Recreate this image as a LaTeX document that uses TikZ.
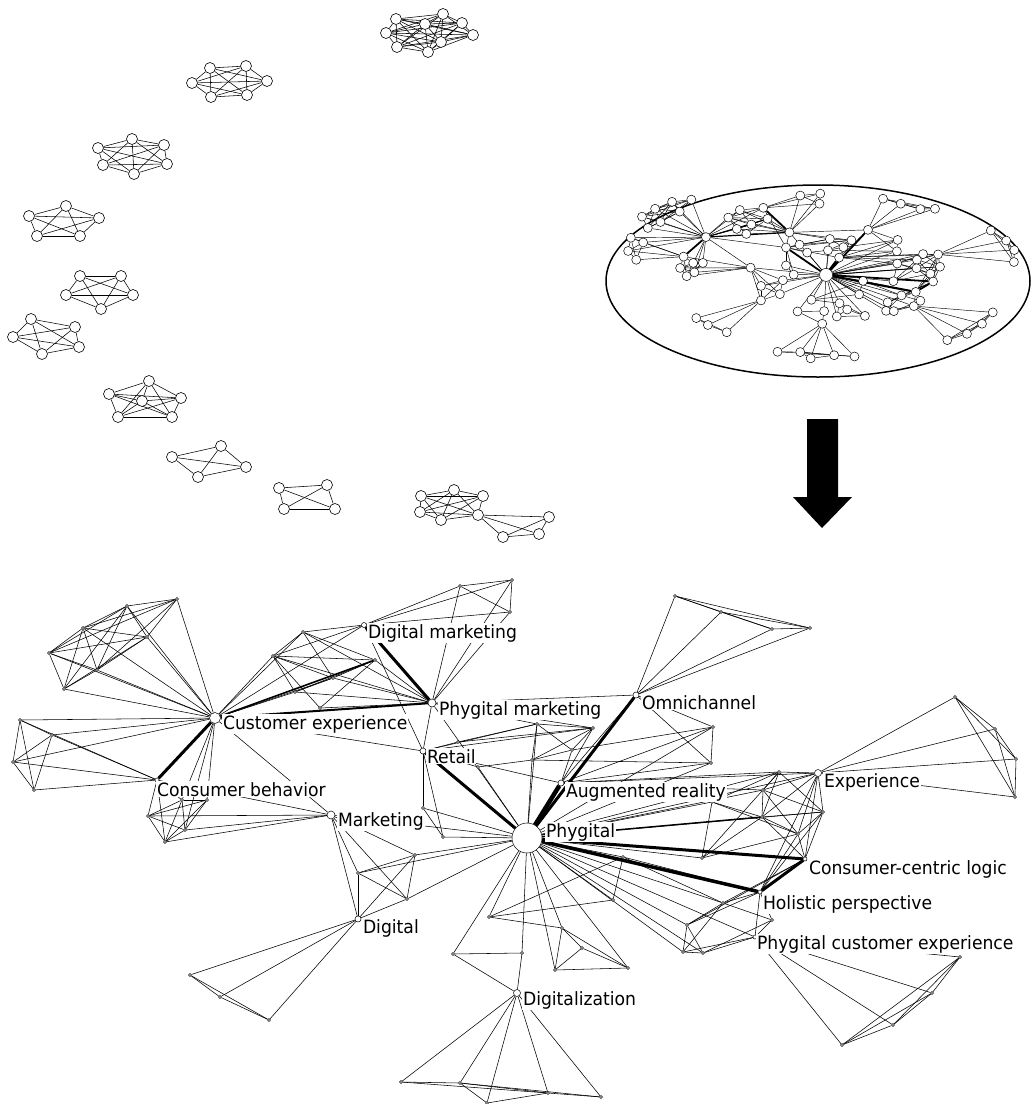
\documentclass[tikz,border=0pt]{standalone}
\usepackage{fontspec}
\setmainfont{DejaVu Sans}[FakeStretch=0.94]
\usetikzlibrary{backgrounds}

\newcommand{\netnodes}{phy/527/838/30,ce/215/718/11,cb/157/780/4,dm/364/625/5,pm/432/703/8,ret/423/751/6,mkt/331/815/8,omni/636/695/6,ar/561/783/6,exp/818/773/7,ccl/805/859/4,hol/760/892/4,pce/755/937/4,dig/358/919/6,digz/517/993/7,
a1/177/599/3,a2/127/606/3,a3/83/628/3,a4/49/653/3,a5/64/689/3,a6/147/637/3,a7/97/670/3,
b1/20/720/3,b2/52/735/3,b3/13/762/3,b4/34/790/3,
c1/148/816/3,c2/165/842/3,c3/185/830/3,c4/182/800/3,c5/207/800/3,
u1/303/632/3,u2/273/656/3,u3/295/692/3,u4/333/678/3,u5/375/660/3,u6/320/708/3,
t1/460/586/3,t2/512/580/3,t3/510/612/3,
m1/537/724/3,m2/593/728/3,m3/458/742/3,m4/532/760/3,m5/572/750/3,m6/423/808/3,m7/443/837/3,m8/478/767/3,
oa/675/596/3,ob/721/612/3,oc/772/629/3,od/810/628/3,oe/713/727/3,of/711/763/3,
ea/955/697/3,eb/995/729/3,ec/1016/759/3,ed/1015/797/3,
r1/779/772/3,r2/763/790/3,r3/823/812/3,r4/798/834/3,r5/702/858/3,r6/762/817/3,r7/712/802/3,
s1/683/952/3,s2/703/953/3,s3/687/925/3,s4/723/903/3,s5/623/857/3,s6/772/920/3,
pa/960/957/3,pb/932/993/3,pc/893/1025/3,pd/842/1045/3,
k1/415/855/3,k2/358/873/3,k3/407/899/3,
da/190/975/3,db/220/997/3,dc/269/1020/3,
g1/453/954/3,g2/522/953/3,g3/489/917/3,g4/613/900/3,g5/555/970/3,g6/628/968/3,g7/562/928/3,g8/582/948/3,
za/401/1082/3,zb/460/1083/3,zc/548/1093/3,zd/601/1097/3,ze/487/1103/3}

\newcommand{\netedges}{a1/a2,a1/a3,a1/a4,a1/a6,a1/a7,a2/a3,a2/a4,a2/a5,a2/a6,a2/a7,a3/a4,a3/a5,a3/a6,a3/a7,a4/a5,a4/a6,a4/a7,a5/a6,a5/a7,a6/a7,
ce/a1,ce/a2,ce/a3,ce/a4,ce/a5,ce/a6,ce/a7,
b1/b2,b1/b3,b1/b4,b2/b3,b2/b4,b3/b4,ce/b1,ce/b2,ce/b3,cb/b1,cb/b2,cb/b3,cb/b4,
c1/c2,c1/c3,c1/c4,c1/c5,c2/c3,c2/c4,c2/c5,c3/c4,c3/c5,c4/c5,cb/c1,cb/c2,cb/c4,mkt/c1,mkt/c2,mkt/c3,ce/c3,ce/c4,ce/c5,
cb/mkt,ce/mkt,ce/dm,ce/ret,
u1/u2,u1/dm,u2/dm,u1/u4,u2/u4,u2/u3,u3/u4,u4/u5,u3/u5,u2/u5,u1/u5,u5/pm,u4/pm,u3/pm,u1/pm,u2/pm,ce/u1,ce/u2,ce/u3,ce/u4,u6/pm,u6/u5,u6/u2,
t1/t2,t1/t3,t2/t3,dm/t1,dm/t2,dm/t3,pm/t1,pm/t2,pm/t3,
pm/ret,dm/ret,pm/phy,pm/omni,
pm/m1,pm/m2,m1/m2,m3/m1,m3/m2,m1/m4,m4/m5,m2/m5,m1/m5,m2/m4,ret/m1,ret/m2,ret/ar,ret/m6,ret/m7,m6/m7,m6/phy,m7/phy,m8/phy,m8/ret,m4/phy,m1/phy,ar/m2,ar/m5,m3/ret,m8/m4,
omni/oa,omni/ob,omni/oc,omni/od,oa/ob,ob/oc,oa/oc,oc/od,ob/od,oa/od,omni/oe,omni/of,oe/of,ar/oe,ar/of,ar/omni,phy/oe,phy/of,m5/oe,m4/of,
exp/ea,exp/eb,exp/ec,exp/ed,ea/eb,ea/ec,ea/ed,eb/ec,eb/ed,ec/ed,
r1/r2,r1/r3,r1/r6,r2/r6,r2/r3,r2/r4,r3/r4,r3/r6,r4/r6,r5/r6,r5/r4,r5/r1,r7/r1,r7/r6,r7/r4,r7/r5,exp/r1,exp/r2,exp/r3,exp/r4,exp/r6,ar/r1,ar/r2,ar/r7,ar/exp,phy/r1,phy/r2,phy/r5,phy/r7,phy/r3,phy/exp,ccl/r4,ccl/r3,ccl/r6,hol/r4,hol/r3,ccl/exp,hol/exp,
s1/s2,s1/s3,s2/s3,s3/s4,s4/s6,s2/s6,s1/s4,s6/hol,s4/hol,s3/hol,pce/s1,pce/s2,pce/s6,phy/s1,phy/s2,phy/s3,phy/s4,phy/s5,s5/s4,s5/hol,hol/pce,phy/pce,s3/ccl,s4/ccl,
pce/pa,pce/pb,pce/pc,pce/pd,pa/pb,pa/pc,pa/pd,pb/pc,pb/pd,pc/pd,
mkt/k1,mkt/k2,mkt/k3,mkt/dig,k1/k2,k1/k3,k2/k3,k2/dig,k1/dig,k3/dig,phy/k1,phy/k2,phy/k3,mkt/phy,
dig/da,dig/db,dig/dc,da/db,da/dc,db/dc,
phy/g1,g1/g2,g1/digz,phy/g2,g2/digz,phy/g3,g3/g4,g3/s5,phy/g4,g4/s5,phy/g5,phy/g6,phy/g7,g5/g6,g5/g7,g7/g8,g6/g8,g5/g8,g7/g6,g3/g7,
digz/za,digz/zb,digz/zc,digz/zd,digz/ze,za/zb,zb/zc,zc/zd,za/zc,zb/zd,ze/zc,zb/ze}

\newcommand{\netbold}{dm/pm/3,ce/cb/3,ce/pm/2,ce/u5/1.6,ret/phy/3,omni/phy/3,ar/phy/4.5,phy/ccl/3,phy/hol/3.5,ccl/hol/3,phy/r6/1.5}

\begin{document}
\begin{tikzpicture}[x=1pt,y=-1pt,
  blob/.style={circle,draw,fill=white,inner sep=0pt,minimum size=11pt,line width=0.6pt},
  vtx/.style={circle,draw,fill=white,inner sep=0pt,line width=0.5pt},
  mvtx/.style={circle,draw,fill=white,inner sep=0pt,line width=0.5pt},
  lnk/.style={line width=0.55pt},
  lbl/.style={anchor=base west,fill=white,inner sep=0.8pt,font=\fontsize{18.3}{21}\selectfont}]
\useasboundingbox (0,0) rectangle (1031,1104);

\foreach \i/\x/\y in {1/396/19,2/443/14,3/462/23,4/473/35,5/386/33,6/425/24,7/397/47,8/428/52,9/441/42}
  \node[blob] (qa\i) at (\x,\y) {};
\foreach \i/\x/\y in {1/210/68,2/246/66,3/267/81,4/192/83,5/211/97,6/247/95}
  \node[blob] (qb\i) at (\x,\y) {};
\foreach \i/\x/\y in {1/132/139,2/164/145,3/98/148,4/103/165,5/167/164,6/134/174}
  \node[blob] (qc\i) at (\x,\y) {};
\foreach \i/\x/\y in {1/66/206,2/29/216,3/99/218,4/37/236,5/80/236}
  \node[blob] (qd\i) at (\x,\y) {};
\foreach \i/\x/\y in {1/80/276,2/121/276,3/66/295,4/133/295,5/101/309}
  \node[blob] (qe\i) at (\x,\y) {};
\foreach \i/\x/\y in {1/31/319,2/75/327,3/13/337,4/79/347,5/42/354}
  \node[blob] (qf\i) at (\x,\y) {};
\foreach \i/\x/\y in {1/149/381,2/109/394,3/181/398,4/142/401,5/118/417,6/172/417}
  \node[blob] (qg\i) at (\x,\y) {};
\foreach \i/\x/\y in {1/172/457,2/221/446,3/246/467,4/198/477}
  \node[blob] (qh\i) at (\x,\y) {};
\foreach \i/\x/\y in {1/279/488,2/327/485,3/284/509,4/335/509}
  \node[blob] (qi\i) at (\x,\y) {};
\foreach \i/\x/\y in {1/421/496,2/454/490,3/483/496,4/420/512,5/441/520,6/478/515,7/549/517,8/539/534,9/503/537}
  \node[blob] (qj\i) at (\x,\y) {};

\draw[line width=1.5pt] (818,281) ellipse [x radius=212pt, y radius=96pt];
\fill (807,419) -- (838,419) -- (838,497) -- (852,497) -- (822,528) -- (793,497) -- (807,497) -- cycle;

\foreach \n/\x/\y/\s in \netnodes {
  \node[vtx,minimum size={\s*1pt}] (\n) at (\x,\y) {};
  \node[mvtx,minimum size={(\s>20?13:9)*1pt}] (w-\n) at ({627+0.385*(\x-10)},{193+0.315*(\y-578)}) {};
}

\begin{scope}[on background layer]
\foreach \i in {1,...,8} \foreach \j in {\i,...,9} {\ifnum\j>\i \draw[lnk] (qa\i) -- (qa\j); \fi}
\foreach \k in {qb,qc,qg} \foreach \i in {1,...,5} \foreach \j in {\i,...,6} {\ifnum\j>\i \draw[lnk] (\k\i) -- (\k\j); \fi}
\foreach \k in {qd,qe,qf} \foreach \i in {1,...,4} \foreach \j in {\i,...,5} {\ifnum\j>\i \draw[lnk] (\k\i) -- (\k\j); \fi}
\foreach \k in {qh,qi} \foreach \i in {1,...,3} \foreach \j in {\i,...,4} {\ifnum\j>\i \draw[lnk] (\k\i) -- (\k\j); \fi}
\foreach \i in {1,...,5} \foreach \j in {\i,...,6} {\ifnum\j>\i \draw[lnk] (qj\i) -- (qj\j); \fi}
\foreach \a/\b in {6/7,6/8,6/9,7/8,7/9,8/9} \draw[lnk] (qj\a) -- (qj\b);

\foreach \a/\b in \netedges {
  \draw[lnk] (\a) -- (\b);
  \draw[line width=0.45pt] (w-\a) -- (w-\b);
}
\foreach \a/\b/\w in \netbold {
  \draw[line width={\w*1pt}] (\a) -- (\b);
  \draw[line width={0.6*\w*1pt}] (w-\a) -- (w-\b);
}
\end{scope}

\node[lbl] (ce-l) at (222,729) {Customer experience};
\node[lbl] (cb-l) at (156,796) {Consumer behavior};
\node[lbl] (dm-l) at (367,638) {Digital marketing};
\node[lbl] (pm-l) at (438,715) {Phygital marketing};
\node[lbl] (ret-l) at (426,763) {Retail};
\node[lbl] (mkt-l) at (337,826) {Marketing};
\node[lbl] (omni-l) at (641,709) {Omnichannel};
\node[lbl] (ar-l) at (565,797) {Augmented reality};
\node[lbl] (phy-l) at (545,837) {Phygital};
\node[lbl] (exp-l) at (823,787) {Experience};
\node[lbl] (ccl-l) at (808,874) {Consumer-centric logic};
\node[lbl] (hol-l) at (762,909) {Holistic perspective};
\node[lbl] (pce-l) at (756,949) {Phygital customer experience};
\node[lbl] (dig-l) at (362,933) {Digital};
\node[lbl] (digz-l) at (522,1005) {Digitalization};
\end{tikzpicture}
\end{document}
